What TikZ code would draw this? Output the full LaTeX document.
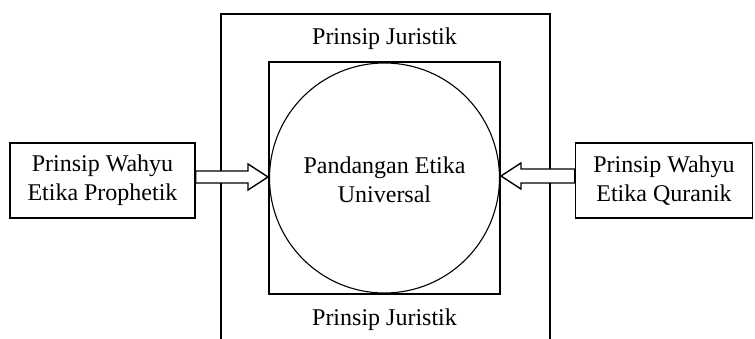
\documentclass[tikz,border=0pt]{standalone}
\usepackage{fontspec}
\setmainfont{Liberation Serif}
\usetikzlibrary{calc}
\tikzset{
  lbl/.style={font=\fontsize{24}{29}\selectfont, align=center, inner sep=0pt},
  sidebox/.style={draw, line width=1.5pt, minimum height=75pt, inner sep=0pt, font=\fontsize{24}{29}\selectfont, align=center},
  blockarrow/.style={draw, line width=1.4pt, fill=white, line join=miter},
}
\begin{document}
\begin{tikzpicture}[x=1pt,y=-1pt]
\useasboundingbox (0,0) rectangle (755,339);
% outer frame open at bottom
\coordinate (obl) at (221,339);
\coordinate (otl) at (221,14);
\coordinate (otr) at (550,14);
\coordinate (obr) at (550,339);
\draw[line width=1.5pt] (obl) -- (otl) -- (otr) -- (obr);
% inner square and circle
\node[draw, line width=2pt, minimum size=231pt, inner sep=0pt] (sq) at (384.5,178) {};
\node[draw, circle, line width=1.1pt, minimum size=230pt, inner sep=0pt] (circ) at (384.5,178) {};
\node[lbl, anchor=base] (pj1) at (384.5,45) {Prinsip Juristik};
\node[lbl, anchor=base] (pj2) at (384.5,325) {Prinsip Juristik};
\node[lbl] (pe) at (384.5,180) {Pandangan Etika\\Universal};
% side boxes
\node[sidebox, minimum width=185pt] (lb) at (102.5,180.5) {Prinsip Wahyu\\Etika Prophetik};
\node[sidebox, minimum width=177pt] (rb) at (664,180.5) {Prinsip Wahyu\\Etika Quranik};
% arrows
\coordinate (la0) at (lb.east |- 0,177);
\coordinate (la1) at (sq.west |- 0,177);
\draw[blockarrow] ($(la0)+(0,-6)$) -- ($(la1)+(-20,-6)$) -- ($(la1)+(-20,-13)$) -- (la1)
  -- ($(la1)+(-20,13)$) -- ($(la1)+(-20,6)$) -- ($(la0)+(0,6)$) -- cycle;
\coordinate (ra0) at (rb.west |- 0,176);
\coordinate (ra1) at (sq.east |- 0,176);
\draw[blockarrow] ($(ra0)+(0,-7)$) -- ($(ra1)+(20,-7)$) -- ($(ra1)+(20,-13)$) -- (ra1)
  -- ($(ra1)+(20,13)$) -- ($(ra1)+(20,7)$) -- ($(ra0)+(0,7)$) -- cycle;
\end{tikzpicture}
\end{document}
